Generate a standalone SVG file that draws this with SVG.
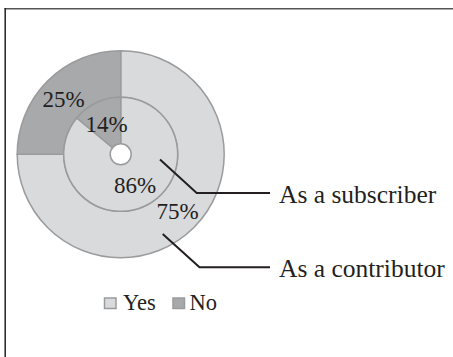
<svg xmlns="http://www.w3.org/2000/svg" width="453" height="357" viewBox="0 0 453 357">
<style>
.yes{fill:#d9dadc;stroke:#9a9b9d;stroke-width:1.5}
.no{fill:#a8a9ab;stroke:#9a9b9d;stroke-width:1.5}
.pct{font-family:"Liberation Serif","Times New Roman",serif;font-size:23px;fill:#231f20}
.lbl{font-family:"Liberation Serif","Times New Roman",serif;font-size:25.5px;fill:#231f20}
.leg{font-family:"Liberation Serif","Times New Roman",serif;font-size:22.5px;fill:#231f20}
.lead{fill:none;stroke:#231f20;stroke-width:2}
</style>
<rect width="453" height="357" fill="#fff"/>
<g id="frame">
<line x1="4.5" y1="8.7" x2="453" y2="8.7" stroke="#555" stroke-width="1.5"/>
<line x1="5.2" y1="8" x2="5.2" y2="357" stroke="#222" stroke-width="1.5"/>
</g>
<g id="outer-ring">
<path class="yes" d="M120.7,50.8 A103.5,103.5 0 1 1 17.2,154.3 L63.7,154.3 A57,57 0 1 0 120.7,97.3 Z"/>
<path class="no" d="M120.7,50.8 A103.5,103.5 0 0 0 17.2,154.3 L63.7,154.3 A57,57 0 0 1 120.7,97.3 Z"/>
</g>
<g id="inner-ring">
<path class="yes" d="M120.7,154.3 L76.78,117.97 A57,57 0 1 0 120.7,97.3 Z"/>
<path class="no" d="M120.7,154.3 L120.7,97.3 A57,57 0 0 0 76.78,117.97 Z"/>
<circle cx="120.7" cy="154.3" r="10.5" fill="#fff" stroke="#9a9b9d" stroke-width="1.5"/>
</g>
<g id="labels">
<text class="pct" x="42.5" y="106.5">25%</text>
<text class="pct" x="85.5" y="132">14%</text>
<text class="pct" x="114" y="193">86%</text>
<text class="pct" x="156.5" y="218.7">75%</text>
</g>
<g id="connectors">
<polyline class="lead" points="160,159.5 196.7,193 270,193"/>
<polyline class="lead" points="162.7,234 199.5,267.3 270,267.3"/>
</g>
<g id="subscriber-label"><text class="lbl" x="279" y="202.7">As a subscriber</text></g>
<g id="contributor-label"><text class="lbl" x="279" y="276.5">As a contributor</text></g>
<g id="legend">
<rect class="yes" x="104.5" y="298" width="11.5" height="10.5" stroke-width="1"/>
<text class="leg" x="123" y="310">Yes</text>
<rect class="no" x="173" y="298" width="11.5" height="10.5" stroke-width="1"/>
<text class="leg" x="189.5" y="310">No</text>
</g>
</svg>
